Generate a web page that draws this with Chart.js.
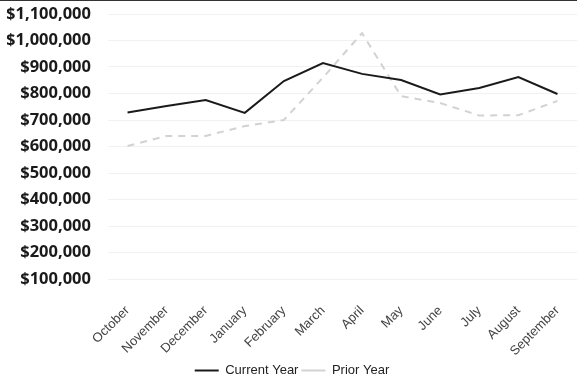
<!DOCTYPE html>
<html><head><meta charset="utf-8">
<script src="https://cdn.jsdelivr.net/npm/chart.js@4/dist/chart.umd.min.js"></script>
<style>
html,body{margin:0;padding:0;background:#fff;}
body{width:577px;height:379px;overflow:hidden;border-top:1px solid #333;box-sizing:border-box;}
#wrap{width:577px;height:378px;position:relative;}
</style></head>
<body><div id="wrap"><canvas id="c"></canvas></div>
<script>
const months = ["October","November","December","January","February","March","April","May","June","July","August","September"];
const currentYear = [728000, 753000, 775000, 727000, 847000, 915000, 874000, 851000, 796000, 821000, 862000, 798000];
const priorYear = [602000, 640000, 640000, 677000, 700000, 860000, 1028000, 790000, 764000, 717000, 718000, 772000];
const yMin = 100000, yMax = 1100000, yStep = 100000;

new Chart(document.getElementById('c'), {
  type: 'line',
  data: {
    labels: months,
    datasets: [
      {label: 'Current Year', data: currentYear, borderColor: '#1a1a1a', backgroundColor: '#1a1a1a', borderWidth: 2, pointRadius: 0, tension: 0},
      {label: 'Prior Year', data: priorYear, borderColor: '#d2d2d2', backgroundColor: '#d2d2d2', borderWidth: 2, borderDash: [7, 6], pointRadius: 0, tension: 0}
    ]
  },
  options: {
    responsive: true, maintainAspectRatio: false, animation: false,
    layout: {padding: {top: 0, left: 7, right: 0, bottom: -8}},
    plugins: {
      tooltip: {enabled: false},
      legend: {
        position: 'bottom',
        labels: {
          usePointStyle: true, pointStyle: 'line', pointStyleWidth: 24,
          color: '#222', font: {family: 'Liberation Sans', size: 13}, padding: 3, boxHeight: 2
        }
      }
    },
    scales: {
      x: {
        offset: true,
        grid: {display: false},
        border: {display: false},
        ticks: {maxRotation: 45, minRotation: 45, color: '#444', font: {family: 'Liberation Sans', size: 13}, padding: 16},
        afterFit: s => { s.paddingLeft = 0; s.paddingRight = 0; s.height = 82; }
      },
      y: {
        min: yMin, max: yMax,
        border: {display: false},
        grid: {color: '#f1f1f1', drawTicks: false},
        ticks: {
          stepSize: yStep, padding: 17, color: '#1a1a1a',
          font: {family: 'Noto Sans', size: 16.5, weight: 'bold'},
          callback: v => '$' + v.toLocaleString('en-US')
        },
        afterFit: s => { s.paddingTop = 13; s.paddingBottom = 0; s.width = 101; }
      }
    }
  }
});
</script></body></html>
